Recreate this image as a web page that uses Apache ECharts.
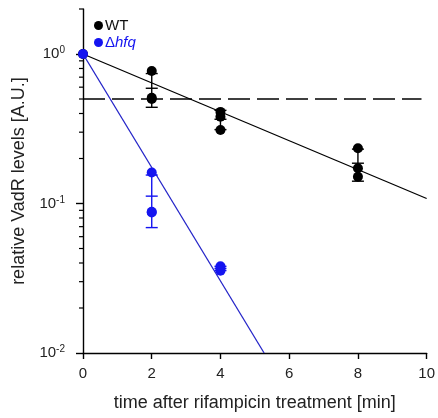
<!DOCTYPE html>
<html>
<head>
<meta charset="utf-8">
<script src="https://cdn.jsdelivr.net/npm/echarts@6/dist/echarts.min.js"></script>
<style>html,body{margin:0;padding:0;background:#fff;}#c{width:438px;height:418px;}</style>
</head>
<body>
<div id="c"></div>
<script>
// ---- data ----
const xTicks = [0, 2, 4, 6, 8, 10];
const yMajorTicks = [0.01, 0.1, 1];
const yMinorTicks = [0.02,0.03,0.04,0.05,0.06,0.07,0.08,0.09,0.2,0.3,0.4,0.5,0.6,0.7,0.8,0.9,2];

// WT replicates
const wtTime   = [0, 2, 2, 2, 4, 4, 4, 8, 8, 8];
const wtValues = [1, 0.77, 0.51, 0.50, 0.41, 0.38, 0.31, 0.234, 0.172, 0.151];
// WT mean / SD
const wtMeanTime = [0, 2, 4, 8];
const wtMean     = [1, 0.59, 0.366, 0.186];
const wtSd       = [0, 0.15, 0.054, 0.045];
// WT exponential fit
const wtFitTime  = [0, 10];
const wtFitValue = [1, 0.108];

// Δhfq replicates
const hfqTime   = [0, 2, 2, 2, 4, 4, 4];
const hfqValues = [1, 0.161, 0.088, 0.087, 0.038, 0.0366, 0.0355];
// Δhfq mean / SD
const hfqMeanTime = [0, 2, 4];
const hfqMean     = [1, 0.112, 0.0368];
const hfqSd       = [0, 0.043, 0.0012];
// Δhfq exponential fit
const hfqFitTime  = [0, 5.27];
const hfqFitValue = [1, 0.01];

// half-life reference line
const halfTime  = [0, 9.85];
const halfValue = [0.5, 0.5];

const BLACK = '#000000';
const BLUE = '#1414f0';
const BLUE_LINE = '#2424c8';
const FONT = 'Liberation Sans, Arial, sans-serif';

const zip = (a, b) => a.map((v, i) => [v, b[i]]);

function errorBarSeries(times, means, sds, color) {
  return {
    type: 'custom',
    z: 3,
    silent: true,
    data: times.map((t, i) => [t, means[i], sds[i]]),
    renderItem: function (params, api) {
      const t = api.value(0), m = api.value(1), s = api.value(2);
      if (!s) return null;
      const pTop = api.coord([t, m + s]);
      const pMid = api.coord([t, m]);
      const pBot = api.coord([t, m - s]);
      const hw = 6;
      const st = { stroke: color, lineWidth: 1.4 };
      return {
        type: 'group',
        children: [
          { type: 'line', shape: { x1: pTop[0], y1: pTop[1], x2: pBot[0], y2: pBot[1] }, style: st },
          { type: 'line', shape: { x1: pTop[0]-hw, y1: pTop[1], x2: pTop[0]+hw, y2: pTop[1] }, style: st },
          { type: 'line', shape: { x1: pMid[0]-hw, y1: pMid[1], x2: pMid[0]+hw, y2: pMid[1] }, style: st },
          { type: 'line', shape: { x1: pBot[0]-hw, y1: pBot[1], x2: pBot[0]+hw, y2: pBot[1] }, style: st }
        ]
      };
    }
  };
}

const chart = echarts.init(document.getElementById('c'), null, { renderer: 'canvas' });

const option = {
  animation: false,
  backgroundColor: '#ffffff',
  textStyle: { fontFamily: FONT },
  grid: { left: 83, right: 9, top: 9, bottom: 65, containLabel: false },
  legend: {
    orient: 'vertical',
    left: 89,
    top: 13,
    itemWidth: 9,
    itemHeight: 9,
    itemGap: 2,
    icon: 'circle',
    itemStyle: { borderWidth: 0 },
    data: [
      { name: 'WT', itemStyle: { color: BLACK, borderWidth: 0 } },
      { name: 'Δhfq', itemStyle: { color: BLUE, borderWidth: 0 } }
    ],
    formatter: function (name) {
      return name === 'WT' ? '{w|WT}' : '{d|Δ}{i|hfq}';
    },
    textStyle: {
      padding: [0, 0, 0, -3],
      rich: {
        w: { fontSize: 15, color: '#111', fontFamily: FONT },
        d: { fontSize: 15, color: BLUE, fontFamily: FONT },
        i: { fontSize: 15, color: BLUE, fontStyle: 'italic', fontFamily: FONT }
      }
    }
  },
  xAxis: {
    type: 'value',
    min: 0,
    max: 10,
    interval: 2,
    name: 'time after rifampicin treatment [min]',
    nameLocation: 'middle',
    nameGap: 41,
    nameTextStyle: { fontSize: 18, color: '#222', fontFamily: FONT },
    axisLine: { show: true, onZero: false, lineStyle: { color: BLACK, width: 1.4 } },
    axisTick: { show: true, inside: false, length: 6, lineStyle: { color: BLACK, width: 1.4 } },
    axisLabel: { fontSize: 15, color: '#222', margin: 13, fontFamily: FONT },
    splitLine: { show: false }
  },
  yAxis: {
    type: 'log',
    logBase: 10,
    min: 0.01,
    max: 2,
    interval: 1,
    name: 'relative VadR levels [A.U.]',
    nameLocation: 'middle',
    nameGap: 48,
    nameTextStyle: { fontSize: 18, color: '#222', fontFamily: FONT },
    axisLine: { show: true, lineStyle: { color: BLACK, width: 1.4 } },
    axisTick: { show: true, inside: false, length: 7, lineStyle: { color: BLACK, width: 1.4 } },
    axisLabel: {
      margin: 18,
      showMaxLabel: false,
      color: '#222',
      fontFamily: FONT,
      formatter: function (v) {
        const e = Math.round(Math.log10(v));
        if (Math.abs(Math.log10(v) - e) > 1e-6) return '';
        return '{b|10}{s|' + e + '}';
      },
      rich: {
        b: { fontSize: 15, color: '#222', fontFamily: FONT, lineHeight: 17 },
        s: { fontSize: 10, color: '#222', fontFamily: FONT, verticalAlign: 'top', lineHeight: 17, padding: [0, 0, 7, 0] }
      }
    },
    splitLine: { show: false },
    minorTick: { show: false }
  },
  series: [
    {
      type: 'custom',
      silent: true,
      z: 1,
      data: yMinorTicks.map(v => [0, v]),
      renderItem: function (params, api) {
        const p = api.coord([api.value(0), api.value(1)]);
        return {
          type: 'line',
          shape: { x1: p[0] - 4, y1: p[1], x2: p[0], y2: p[1] },
          style: { stroke: BLACK, lineWidth: 1.2 }
        };
      }
    },
    {
      name: 'half',
      type: 'line',
      data: zip(halfTime, halfValue),
      symbol: 'none',
      z: 1,
      lineStyle: { color: BLACK, width: 1.4, type: [22, 7] },
      silent: true
    },
    {
      name: 'wtFit',
      type: 'line',
      data: zip(wtFitTime, wtFitValue),
      symbol: 'none',
      z: 2,
      lineStyle: { color: BLACK, width: 1.3 },
      silent: true
    },
    {
      name: 'hfqFit',
      type: 'line',
      data: zip(hfqFitTime, hfqFitValue),
      symbol: 'none',
      z: 2,
      lineStyle: { color: BLUE_LINE, width: 1.3 },
      silent: true
    },
    errorBarSeries(wtMeanTime, wtMean, wtSd, BLACK),
    errorBarSeries(hfqMeanTime, hfqMean, hfqSd, BLUE),
    {
      name: 'WT',
      type: 'scatter',
      data: zip(wtTime, wtValues),
      symbol: 'circle',
      symbolSize: 10,
      z: 4,
      itemStyle: { color: BLACK, opacity: 1 }
    },
    {
      name: 'Δhfq',
      type: 'scatter',
      data: zip(hfqTime, hfqValues),
      symbol: 'circle',
      symbolSize: 10,
      z: 5,
      itemStyle: { color: BLUE, opacity: 1 }
    }
  ]
};

chart.setOption(option);
</script>
</body>
</html>
